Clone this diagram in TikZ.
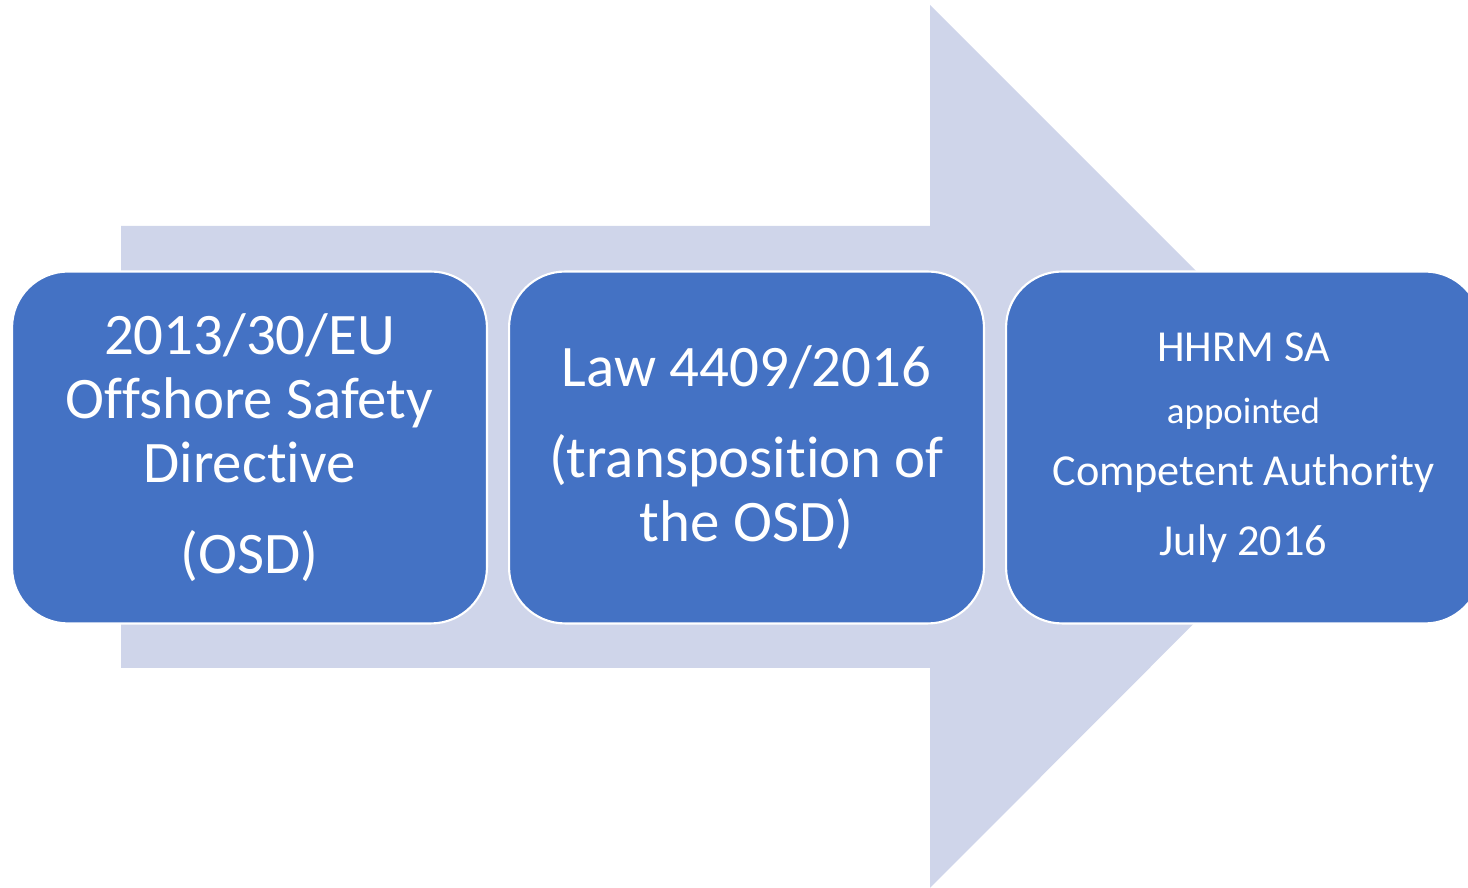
\documentclass[tikz,border=0pt]{standalone}
\usepackage{fontspec}
\setmainfont{Carlito}[Ligatures={NoCommon}]
\usetikzlibrary{positioning}
\usepackage{xcolor}
\newcommand{\myunit}{0.02cm}
\definecolor{flowblue}{HTML}{CFD5EA}
\definecolor{stageblue}{HTML}{4472C4}
\tikzset{
    flowsty/.style={fill=flowblue},
    stagesty/.style={draw=white,line width=1.2pt,fill=stageblue,rectangle,rounded corners=1.12cm,
                     minimum width=9.5cm,minimum height=7.04cm,inner sep=0pt,text=white,align=center},
    bigsty/.style={font=\fontsize{33.5}{36.5}\selectfont},
    midsty/.style={font=\fontsize{25.2}{35.5}\selectfont},
}
\newcommand{\smallline}[1]{{\fontsize{21}{35.5}\selectfont #1}}

\begin{document}
\begin{tikzpicture}[x=\myunit,y=\myunit]
  \useasboundingbox (0,0) rectangle (1468,888);

  % the big arrow behind
  \fill[flowsty] (121,220) -- (121,662) -- (930,662) -- (930,883) -- (1371,442) -- (930,0) -- (930,220) -- cycle;

  \node[stagesty,bigsty] (osd) at (249.5,440.5)
       {2013/30/EU\\Offshore Safety\\Directive\\[15pt](OSD)};
  \node[stagesty,bigsty,right=0.4cm of osd] (law)
       {Law 4409/2016\\[15pt](transposition of\\the OSD)};
  \node[stagesty,midsty,right=0.4cm of law] (hhrm)
       {HHRM SA\\\smallline{appointed}\\Competent Authority\\[4pt]July 2016};
\end{tikzpicture}
\end{document}
